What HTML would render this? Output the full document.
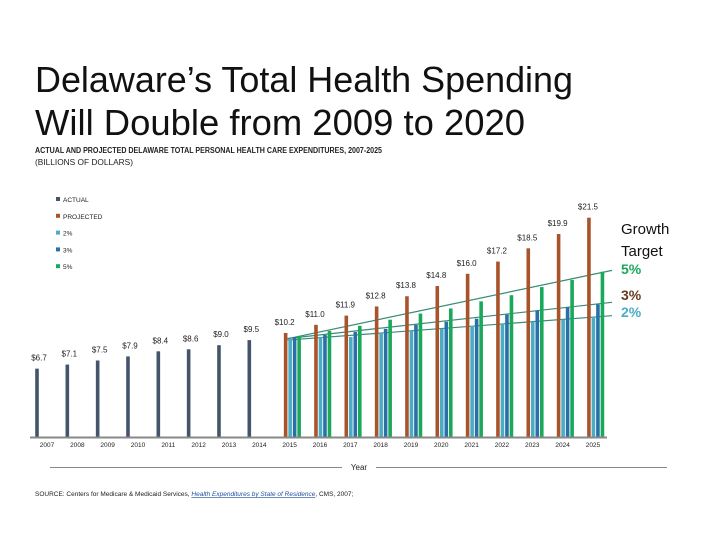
<!DOCTYPE html>
<html><head><meta charset="utf-8"><style>
html,body{margin:0;padding:0;background:#fff;}
svg{display:block;font-family:"Liberation Sans",sans-serif;}
</style></head><body>
<svg id="chart" width="720" height="540" viewBox="0 0 720 540">
<text x="35" y="92" font-size="36" textLength="538" lengthAdjust="spacingAndGlyphs" fill="#111">Delaware’s Total Health Spending</text>
<text x="35" y="135" font-size="36" textLength="490" lengthAdjust="spacingAndGlyphs" fill="#111">Will Double from 2009 to 2020</text>
<text x="35" y="153" font-size="8" font-weight="bold" textLength="347" lengthAdjust="spacingAndGlyphs" fill="#222">ACTUAL AND PROJECTED DELAWARE TOTAL PERSONAL HEALTH CARE EXPENDITURES, 2007-2025</text>
<text x="35" y="165" font-size="8" textLength="98" lengthAdjust="spacingAndGlyphs" fill="#222">(BILLIONS OF DOLLARS)</text>
<g id="legend"></g>
<g id="trend"></g>
<g id="bars"></g>
<line x1="30" y1="437.5" x2="607" y2="437.5" stroke="#888" stroke-width="2"/>
<g id="xlabels"></g>
<line x1="50" y1="467.5" x2="342" y2="467.5" stroke="#888" stroke-width="1"/>
<line x1="376" y1="467.5" x2="667" y2="467.5" stroke="#888" stroke-width="1"/>
<text x="359" y="470" font-size="8" text-anchor="middle" fill="#222">Year</text>
<text x="35" y="496" font-size="6.5" fill="#222">SOURCE: Centers for Medicare &amp; Medicaid Services, <tspan fill="#1f4e9e" text-decoration="underline" font-style="italic">Health Expenditures by State of Residence</tspan>, CMS, 2007;</text>
<text x="621" y="234" font-size="15" fill="#111">Growth</text>
<text x="621" y="256" font-size="15" fill="#111">Target</text>
<text x="621" y="274" font-size="14" font-weight="bold" fill="#1aa85a">5%</text>
<text x="621" y="300" font-size="14" font-weight="bold" fill="#6b3a1f">3%</text>
<text x="621" y="317" font-size="14" font-weight="bold" fill="#4bacc6">2%</text>
</svg>
<script>
const years = [2007,2008,2009,2010,2011,2012,2013,2014,2015,2016,2017,2018,2019,2020,2021,2022,2023,2024,2025];
const actual = [6.7,7.1,7.5,7.9,8.4,8.6,9.0,9.5,null,null,null,null,null,null,null,null,null,null,null];
const projected = [null,null,null,null,null,null,null,null,10.2,11.0,11.9,12.8,13.8,14.8,16.0,17.2,18.5,19.9,21.5];
const growth2 = [null,null,null,null,null,null,null,null,9.6,9.8,9.8,10.2,10.4,10.6,10.9,11.1,11.3,11.5,11.8];
const growth3 = [null,null,null,null,null,null,null,null,9.8,10.0,10.3,10.6,11.0,11.3,11.6,12.0,12.4,12.7,13.0];
const growth5 = [null,null,null,null,null,null,null,null,9.9,10.4,10.9,11.5,12.1,12.6,13.3,13.9,14.7,15.4,16.2];
const legendLabels = ["ACTUAL","PROJECTED","2%","3%","5%"];

const NS="http://www.w3.org/2000/svg";
const base=437, ppu=10.2;
function yS(v){return base - v*ppu;}
function xC(i){return 47 + i*30.33;}
function mk(tag,attrs,parent){const e=document.createElementNS(NS,tag);for(const k in attrs)e.setAttribute(k,attrs[k]);parent.appendChild(e);return e;}
const series=[
 {d:actual,c:"#44546a",off:-10,name:"actual"},
 {d:projected,c:"#a9532b",off:-4,name:"projected"},
 {d:growth2,c:"#4bacc6",off:0.5,name:"growth-2pct"},
 {d:growth3,c:"#2a6fa8",off:5,name:"growth-3pct"},
 {d:growth5,c:"#1aa85a",off:9.5,name:"growth-5pct"}];
const bars=document.getElementById('bars');
series.forEach(s=>{
 s.d.forEach((v,i)=>{
  if(v==null)return;
  const r=mk('rect',{x:xC(i)+s.off-1.8,y:yS(v),width:3.6,height:v*ppu,fill:s.c},bars);
  
  
 });
});
// value labels
[actual,projected].forEach((arr,k)=>{
 arr.forEach((v,i)=>{
  if(v==null)return;
  const t=mk('text',{x:xC(i)+(k==0?-8:-5),y:yS(v)-8,'font-size':8,'text-anchor':'middle',fill:'#222'},bars);
  t.textContent='$'+v.toFixed(1);
  
  
 });
});
// trend lines
const trend=document.getElementById('trend');
[growth2,growth3,growth5].forEach((arr,k)=>{
 const pts=[];arr.forEach((v,i)=>{if(v!=null)pts.push([xC(i),yS(v)]);});
 const n=pts.length;let sx=0,sy=0,sxx=0,sxy=0;
 pts.forEach(p=>{sx+=p[0];sy+=p[1];sxx+=p[0]*p[0];sxy+=p[0]*p[1];});
 const m=(n*sxy-sx*sy)/(n*sxx-sx*sx), b=(sy-m*sx)/n;
 const x1=pts[0][0]-2, x2=612;
 const l=mk('line',{x1:x1,y1:m*x1+b,x2:x2,y2:m*x2+b,stroke:'#3a8a7a','stroke-width':1.2},trend);
 
 
});
// x labels
const xl=document.getElementById('xlabels');
years.forEach((y,i)=>{
 const t=mk('text',{x:xC(i),y:447,'font-size':6.5,'text-anchor':'middle',fill:'#222'},xl);
 t.textContent=y;
 
 
});
// legend
const lg=document.getElementById('legend');
const lcol=["#44546a","#a9532b","#4bacc6","#2a6fa8","#1aa85a"];
legendLabels.forEach((lab,i)=>{
 const y=201+i*16.8;
 const r=mk('rect',{x:56,y:y-4,width:4,height:4,fill:lcol[i]},lg);
 
 
 const t=mk('text',{x:63,y:y+1,'font-size':6.5,fill:'#222'},lg);
 t.textContent=lab;
 
 
});
</script>
</body></html>
